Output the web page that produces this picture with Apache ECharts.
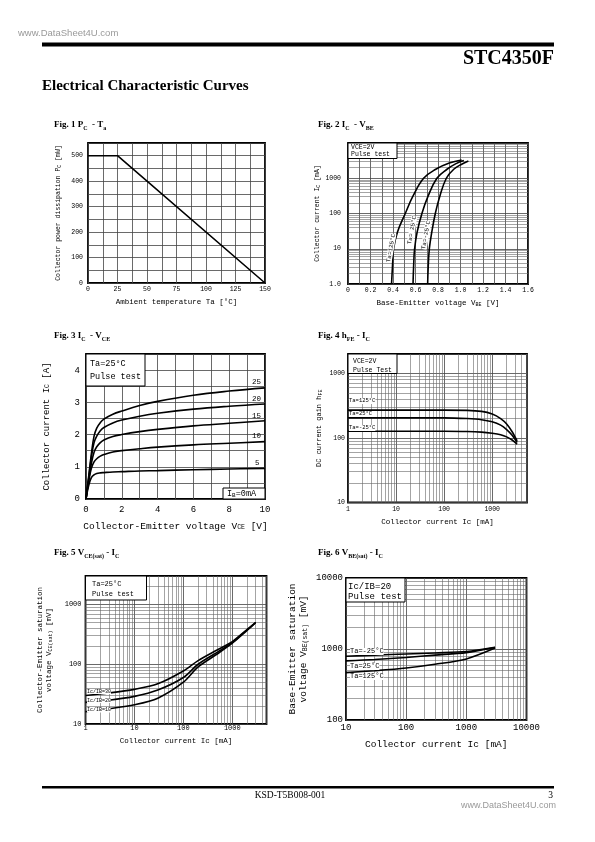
<!DOCTYPE html>
<html><head><meta charset="utf-8">
<script src="https://cdn.jsdelivr.net/npm/echarts@6/dist/echarts.min.js"></script>
<style>html,body{margin:0;padding:0;background:#fff}#c{width:595px;height:842px}</style>
</head><body><div id="c"></div>
<script>
// ---------- DATA ----------
// Fig.1 Pc - Ta
const fig1Temp = [0, 25, 150];
const fig1Power = [500, 500, 0];
// Fig.2 Ic - Vbe (Vce=2V)
const fig2V_125 = [0.387, 0.395, 0.405, 0.44, 0.509, 0.575, 0.672, 0.78, 0.90, 1.01];
const fig2I_125 = [1, 3, 10, 30, 100, 300, 1000, 1800, 2700, 3300];
const fig2V_25 = [0.578, 0.583, 0.592, 0.615, 0.657, 0.71, 0.79, 0.88, 0.96, 1.03];
const fig2I_25 = [1, 3, 10, 30, 100, 300, 1000, 1800, 2600, 3200];
const fig2V_m25 = [0.708, 0.713, 0.723, 0.745, 0.776, 0.815, 0.874, 0.94, 1.01, 1.07];
const fig2I_m25 = [1, 3, 10, 30, 100, 300, 1000, 1800, 2500, 3100];
// Fig.3 Ic - Vce
const fig3Vce = [0, 0.15, 0.3, 0.45, 0.6, 0.8, 1, 1.5, 2, 3, 4, 6, 8, 10];
const fig3Ib25 = [0, 0.7, 1.4, 1.95, 2.2, 2.37, 2.48, 2.63, 2.73, 2.9, 3.03, 3.22, 3.35, 3.45];
const fig3Ib20 = [0, 0.65, 1.3, 1.75, 1.95, 2.12, 2.22, 2.36, 2.45, 2.57, 2.66, 2.79, 2.88, 2.95];
const fig3Ib15 = [0, 0.6, 1.1, 1.45, 1.62, 1.75, 1.83, 1.94, 2.0, 2.09, 2.16, 2.27, 2.35, 2.43];
const fig3Ib10 = [0, 0.55, 0.95, 1.15, 1.25, 1.33, 1.38, 1.46, 1.5, 1.56, 1.61, 1.68, 1.73, 1.78];
const fig3Ib5 = [0, 0.42, 0.66, 0.75, 0.79, 0.81, 0.82, 0.84, 0.85, 0.87, 0.88, 0.91, 0.93, 0.95];
// Fig.4 hFE - Ic
const fig4Ic = [1, 10, 100, 300, 600, 1000, 1500, 2000, 2600, 3300];
const fig4H125 = [270, 270, 270, 268, 258, 235, 200, 165, 125, 90];
const fig4H25 = [205, 205, 205, 200, 192, 178, 158, 135, 110, 85];
const fig4Hm25 = [127, 127, 127, 126, 123, 118, 112, 104, 93, 80];
// Fig.5 Vce(sat) - Ic
const fig5Ic = [1, 3, 10, 30, 100, 200, 500, 1000, 2000, 3000];
const fig5R30 = [30, 33, 38, 47, 77, 115, 175, 240, 380, 500];
const fig5R20 = [23, 25, 29, 37, 60, 100, 160, 230, 375, 500];
const fig5R10 = [16, 18, 21, 27, 50, 90, 150, 225, 370, 495];
// Fig.6 Vbe(sat) - Ic
const fig6Ic = [10, 30, 100, 300, 1000, 3000];
const fig6Tm25 = [790, 820, 850, 880, 920, 1060];
const fig6T25 = [680, 710, 760, 820, 890, 1050];
const fig6T125 = [465, 495, 540, 610, 725, 1030];

// ---------- HELPERS ----------
const MONO = 'Liberation Mono';
function pairs(xs, ys) { return xs.map((x, i) => [x, ys[i]]); }
function isDecade(v) { const l = Math.log10(v); return Math.abs(l - Math.round(l)) < 1e-6; }
function decadeFmt(v) { return isDecade(v) ? String(Math.round(v)) : ''; }
function logMinors(min, max) {
  const out = [];
  for (let d = min; d < max; d *= 10) for (let k = 2; k <= 9; k++) { const v = d * k; if (v < max) out.push(v); }
  return out;
}
const gridLine = { show: true, lineStyle: { color: '#444', width: 0.8 } };
const minorLine = { color: '#666', width: 0.6, type: 'solid' };
function axisBase(gi, size, extra) {
  return Object.assign({
    gridIndex: gi,
    axisLine: { show: false }, axisTick: { show: false },
    splitLine: gridLine,
    axisLabel: { fontFamily: MONO, fontSize: size, color: '#000' },
    nameLocation: 'middle',
    nameTextStyle: { fontFamily: MONO, color: '#000' }
  }, extra);
}
function curve(xi, data, smooth) {
  return { type: 'line', xAxisIndex: xi, yAxisIndex: xi, data: data, symbol: 'none', smooth: smooth === undefined ? 0.3 : smooth,
    lineStyle: { color: '#000', width: 1.6 }, z: 5, animation: false };
}
function withMinors(s, xs, ys) {
  const d = [];
  (xs || []).forEach(v => d.push({ xAxis: v }));
  (ys || []).forEach(v => d.push({ yAxis: v }));
  s.markLine = { silent: true, symbol: ['none', 'none'], label: { show: false }, lineStyle: minorLine, animation: false, z: 1, data: d };
  return s;
}
function sub(sz) { return { fontFamily: MONO, fontSize: sz, verticalAlign: 'bottom', lineHeight: sz + 1, color: '#000' }; }
function t(x, y, text, size, opts) {
  return Object.assign({ type: 'text', x: x, y: y, z: 100,
    style: Object.assign({ text: text, fontFamily: MONO, fontSize: size, fill: '#000', verticalAlign: 'middle' }, (opts || {}).style || {}) },
    (opts || {}).el || {});
}
function box(x, y, w, h) {
  return { type: 'rect', z: 99, shape: { x: x, y: y, width: w, height: h }, style: { fill: '#fff', stroke: '#000', lineWidth: 1 } };
}
function figTitle(x, y, a, s1, b, s2) {
  return { type: 'text', x: x, y: y, z: 100, style: {
    text: '{b|' + a + '}{s|' + s1 + '}{b|' + b + '}{s|' + s2 + '}', verticalAlign: 'middle',
    rich: { b: { fontFamily: 'Liberation Serif', fontWeight: 'bold', fontSize: 9, lineHeight: 12, fill: '#000' },
            s: { fontFamily: 'Liberation Serif', fontWeight: 'bold', fontSize: 6, lineHeight: 8, verticalAlign: 'bottom', fill: '#000' } } } };
}

// ---------- GRIDS ----------
const grids = [
  { left: 88, top: 143, width: 177, height: 140 },
  { left: 348, top: 143, width: 180, height: 141 },
  { left: 86, top: 354, width: 179, height: 145 },
  { left: 348, top: 354, width: 179, height: 148.5 },
  { left: 85.5, top: 576, width: 181, height: 148 },
  { left: 346, top: 578, width: 180.5, height: 142 }
].map(g => Object.assign(g, { show: true, borderColor: '#000', borderWidth: 1.8, backgroundColor: '#fff' }));

const xAxes = [
  axisBase(0, 6.5, { type: 'value', min: 0, max: 150, interval: 12.5,
    axisLabel: { fontFamily: MONO, fontSize: 6.5, color: '#000', margin: 3, formatter: v => (v % 25 === 0 ? String(v) : '') },
    name: 'Ambient temperature Ta [°C]', nameGap: 15, nameTextStyle: { fontFamily: MONO, fontSize: 7.5, color: '#000' } }),
  axisBase(1, 6.5, { type: 'value', min: 0, max: 1.6, interval: 0.1,
    axisLabel: { fontFamily: MONO, fontSize: 6.5, color: '#000', margin: 3, formatter: v => (Math.round(v * 10) % 2 === 0 ? (Math.round(v * 10) === 0 ? '0' : v.toFixed(1)) : '') },
    name: 'Base-Emitter voltage V{s|BE} [V]', nameGap: 15,
    nameTextStyle: { fontFamily: MONO, fontSize: 7.5, color: '#000', rich: { s: sub(5) } } }),
  axisBase(2, 9, { type: 'value', min: 0, max: 10, interval: 1,
    axisLabel: { fontFamily: MONO, fontSize: 9, color: '#000', margin: 6, formatter: v => (v % 2 === 0 ? String(v) : '') },
    name: 'Collector-Emitter voltage V{s|CE} [V]', nameGap: 22,
    nameTextStyle: { fontFamily: MONO, fontSize: 9.5, color: '#000', rich: { s: sub(6.5) } } }),
  axisBase(3, 6.5, { type: 'log', logBase: 10, min: 1, max: 5300,
    axisLabel: { fontFamily: MONO, fontSize: 6.5, color: '#000', margin: 3, formatter: decadeFmt },
    name: 'Collector current Ic [mA]', nameGap: 16, nameTextStyle: { fontFamily: MONO, fontSize: 7.5, color: '#000' } }),
  axisBase(4, 7, { type: 'log', logBase: 10, min: 1, max: 5000,
    axisLabel: { fontFamily: MONO, fontSize: 7, color: '#000', margin: 1, formatter: decadeFmt },
    name: 'Collector current Ic [mA]', nameGap: 13, nameTextStyle: { fontFamily: MONO, fontSize: 7.5, color: '#000' } }),
  axisBase(5, 9, { type: 'log', logBase: 10, min: 10, max: 10000,
    axisLabel: { fontFamily: MONO, fontSize: 9, color: '#000', margin: 3, formatter: decadeFmt },
    name: 'Collector current Ic [mA]', nameGap: 19, nameTextStyle: { fontFamily: MONO, fontSize: 9.5, color: '#000' } })
];

const yAxes = [
  axisBase(0, 6.5, { type: 'value', min: 0, max: 550, interval: 50,
    axisLabel: { fontFamily: MONO, fontSize: 6.5, color: '#000', margin: 5, formatter: v => (v % 100 === 0 && v <= 500 ? String(v) : '') },
    name: 'Collector power dissipation P{s|C} [mW]', nameGap: 26, nameRotate: 90,
    nameTextStyle: { fontFamily: MONO, fontSize: 6.5, color: '#000', rich: { s: sub(5) } } }),
  axisBase(1, 6.5, { type: 'log', logBase: 10, min: 1, max: 10000,
    axisLabel: { fontFamily: MONO, fontSize: 6.5, color: '#000', margin: 7, formatter: v => (Math.round(v) === 1 ? '1.0' : (Math.round(v) === 10000 ? '' : decadeFmt(v))) },
    name: 'Collector current I{s|C} [mA]', nameGap: 27, nameRotate: 90,
    nameTextStyle: { fontFamily: MONO, fontSize: 6.5, color: '#000', rich: { s: sub(5) } } }),
  axisBase(2, 9, { type: 'value', min: 0, max: 4.5, interval: 0.5,
    axisLabel: { fontFamily: MONO, fontSize: 9, color: '#000', margin: 6, formatter: v => (Number.isInteger(v) ? String(v) : '') },
    name: 'Collector current I{s|C} [A]', nameGap: 35, nameRotate: 90,
    nameTextStyle: { fontFamily: MONO, fontSize: 9, color: '#000', rich: { s: sub(6.5) } } }),
  axisBase(3, 6.5, { type: 'log', logBase: 10, min: 10, max: 2000,
    axisLabel: { fontFamily: MONO, fontSize: 6.5, color: '#000', margin: 3, formatter: decadeFmt },
    name: 'DC current gain h{s|FE}', nameGap: 25, nameRotate: 90,
    nameTextStyle: { fontFamily: MONO, fontSize: 7, color: '#000', rich: { s: sub(5) } } }),
  axisBase(4, 7, { type: 'log', logBase: 10, min: 10, max: 3000,
    axisLabel: { fontFamily: MONO, fontSize: 7, color: '#000', margin: 4, formatter: decadeFmt },
    name: 'Collector-Emitter saturation\nvoltage V{s|CE(sat)} [mV]', nameGap: 32, nameRotate: 90,
    nameTextStyle: { fontFamily: MONO, fontSize: 7.5, lineHeight: 9, color: '#000', rich: { s: sub(5) } } }),
  axisBase(5, 9, { type: 'log', logBase: 10, min: 100, max: 10000,
    axisLabel: { fontFamily: MONO, fontSize: 9, color: '#000', margin: 3, formatter: decadeFmt },
    name: 'Base-Emitter saturation\nvoltage V{s|BE(sat)} [mV]', nameGap: 37, nameRotate: 90,
    nameTextStyle: { fontFamily: MONO, fontSize: 9.5, lineHeight: 11, color: '#000', rich: { s: sub(6.5) } } })
];

// ---------- SERIES ----------
const series = [
  curve(0, pairs(fig1Temp, fig1Power), false),
  withMinors(curve(1, pairs(fig2V_125, fig2I_125), 0.4), null, logMinors(1, 10000)),
  curve(1, pairs(fig2V_25, fig2I_25), 0.4),
  curve(1, pairs(fig2V_m25, fig2I_m25), 0.4),
  curve(2, pairs(fig3Vce, fig3Ib25), 0.4),
  curve(2, pairs(fig3Vce, fig3Ib20), 0.4),
  curve(2, pairs(fig3Vce, fig3Ib15), 0.4),
  curve(2, pairs(fig3Vce, fig3Ib10), 0.4),
  curve(2, pairs(fig3Vce, fig3Ib5), 0.4),
  withMinors(curve(3, pairs(fig4Ic, fig4H125)), logMinors(1, 5300), logMinors(10, 2000)),
  curve(3, pairs(fig4Ic, fig4H25)),
  curve(3, pairs(fig4Ic, fig4Hm25)),
  withMinors(curve(4, pairs(fig5Ic, fig5R30)), logMinors(1, 5000), logMinors(10, 3000)),
  curve(4, pairs(fig5Ic, fig5R20)),
  curve(4, pairs(fig5Ic, fig5R10)),
  withMinors(curve(5, pairs(fig6Ic, fig6Tm25)), logMinors(10, 10000), logMinors(100, 10000)),
  curve(5, pairs(fig6Ic, fig6T25)),
  curve(5, pairs(fig6Ic, fig6T125))
];

// ---------- TEXT / DECOR ----------
const deg = Math.PI / 180;
const graphic = [
  // header
  { type: 'text', x: 18, y: 33, z: 100, style: { text: 'www.DataSheet4U.com', fontFamily: 'Liberation Sans', fontSize: 9.5, fill: '#999', verticalAlign: 'middle' } },
  { type: 'rect', z: 100, shape: { x: 42, y: 42.5, width: 512, height: 4 }, style: { fill: '#000' } },
  { type: 'text', x: 554, y: 59, z: 100, style: { text: 'STC4350F', fontFamily: 'Liberation Serif', fontWeight: 'bold', fontSize: 20, fill: '#000', align: 'right', verticalAlign: 'middle' } },
  { type: 'text', x: 42, y: 86, z: 100, style: { text: 'Electrical Characteristic Curves', fontFamily: 'Liberation Serif', fontWeight: 'bold', fontSize: 15, fill: '#000', verticalAlign: 'middle' } },
  // footer
  { type: 'rect', z: 100, shape: { x: 42, y: 786, width: 512, height: 2.5 }, style: { fill: '#000' } },
  { type: 'text', x: 290, y: 795, z: 100, style: { text: 'KSD-T5B008-001', fontFamily: 'Liberation Serif', fontSize: 9.5, fill: '#000', align: 'center', verticalAlign: 'middle' } },
  { type: 'text', x: 553, y: 795, z: 100, style: { text: '3', fontFamily: 'Liberation Serif', fontSize: 9.5, fill: '#000', align: 'right', verticalAlign: 'middle' } },
  { type: 'text', x: 556, y: 806, z: 100, style: { text: 'www.DataSheet4U.com', fontFamily: 'Liberation Sans', fontSize: 9, fill: '#999', align: 'right', verticalAlign: 'middle' } },
  // figure titles
  figTitle(54, 125, 'Fig. 1 P', 'C', '  - T', 'a'),
  figTitle(318, 125, 'Fig. 2 I', 'C', '  - V', 'BE'),
  figTitle(54, 336, 'Fig. 3 I', 'C', '  - V', 'CE'),
  figTitle(318, 336, 'Fig. 4 h', 'FE', ' - I', 'C'),
  figTitle(54, 553, 'Fig. 5 V', 'CE(sat)', ' - I', 'C'),
  figTitle(318, 553, 'Fig. 6 V', 'BE(sat)', ' - I', 'C'),
  // fig 2 annotations
  box(348, 143, 49, 15.5),
  t(351, 147.5, 'VCE=2V', 6.5), t(351, 154.5, 'Pulse test', 6.5),
  t(391, 248, 'Ta=125°C', 6, { el: { rotation: 80 * deg }, style: { align: 'center', backgroundColor: '#fff' } }),
  t(412, 230, 'Ta= 25°C', 6, { el: { rotation: 80 * deg }, style: { align: 'center', backgroundColor: '#fff' } }),
  t(426, 235, 'Ta=-25°C', 6, { el: { rotation: 80 * deg }, style: { align: 'center', backgroundColor: '#fff' } }),
  // fig 3 annotations
  box(86, 354, 59, 32),
  t(90, 364, 'Ta=25°C', 8.5), t(90, 377, 'Pulse test', 8.5),
  t(252, 382, '25', 7.5), t(252, 399, '20', 7.5), t(252, 416, '15', 7.5), t(252, 436.5, '10', 7.5), t(255, 463, '5', 7.5),
  box(223, 488, 42, 11),
  t(227, 494, 'I', 8.5, { style: { text: 'I{s|B}=0mA', rich: { s: { fontFamily: MONO, fontSize: 6, verticalAlign: 'bottom', lineHeight: 8 } } } }),
  // fig 4 annotations
  box(348, 354, 49, 19.5),
  t(353, 361.5, 'VCE=2V', 6.5), t(353, 370, 'Pulse Test', 6.5),
  t(349, 401, 'Ta=125°C', 5.5, { style: { backgroundColor: '#fff' } }),
  t(349, 414, 'Ta=25°C', 5.5, { style: { backgroundColor: '#fff' } }),
  t(349, 428, 'Ta=-25°C', 5.5, { style: { backgroundColor: '#fff' } }),
  // fig 5 annotations
  box(85.5, 576, 61, 24),
  t(92, 584, 'Ta=25°C', 7), t(92, 594, 'Pulse test', 7),
  t(87, 691.5, 'Ic/IB=30', 5, { style: { backgroundColor: '#fff' } }),
  t(87, 700.5, 'Ic/IB=20', 5, { style: { backgroundColor: '#fff' } }),
  t(87, 710, 'Ic/IB=10', 5, { style: { backgroundColor: '#fff' } }),
  // fig 6 annotations
  box(346, 578, 59, 24),
  t(348, 586.5, 'Ic/IB=20', 9), t(348, 596.5, 'Pulse test', 9),
  t(350, 651.5, 'Ta=-25°C', 7, { style: { backgroundColor: '#fff' } }),
  t(350, 666.5, 'Ta=25°C', 7, { style: { backgroundColor: '#fff' } }),
  t(350, 676.5, 'Ta=125°C', 7, { style: { backgroundColor: '#fff' } })
];

const chart = echarts.init(document.getElementById('c'), null, { renderer: 'canvas' });
chart.setOption({
  animation: false,
  backgroundColor: '#fff',
  grid: grids,
  xAxis: xAxes,
  yAxis: yAxes,
  series: series,
  graphic: graphic
});
</script>
</body></html>
